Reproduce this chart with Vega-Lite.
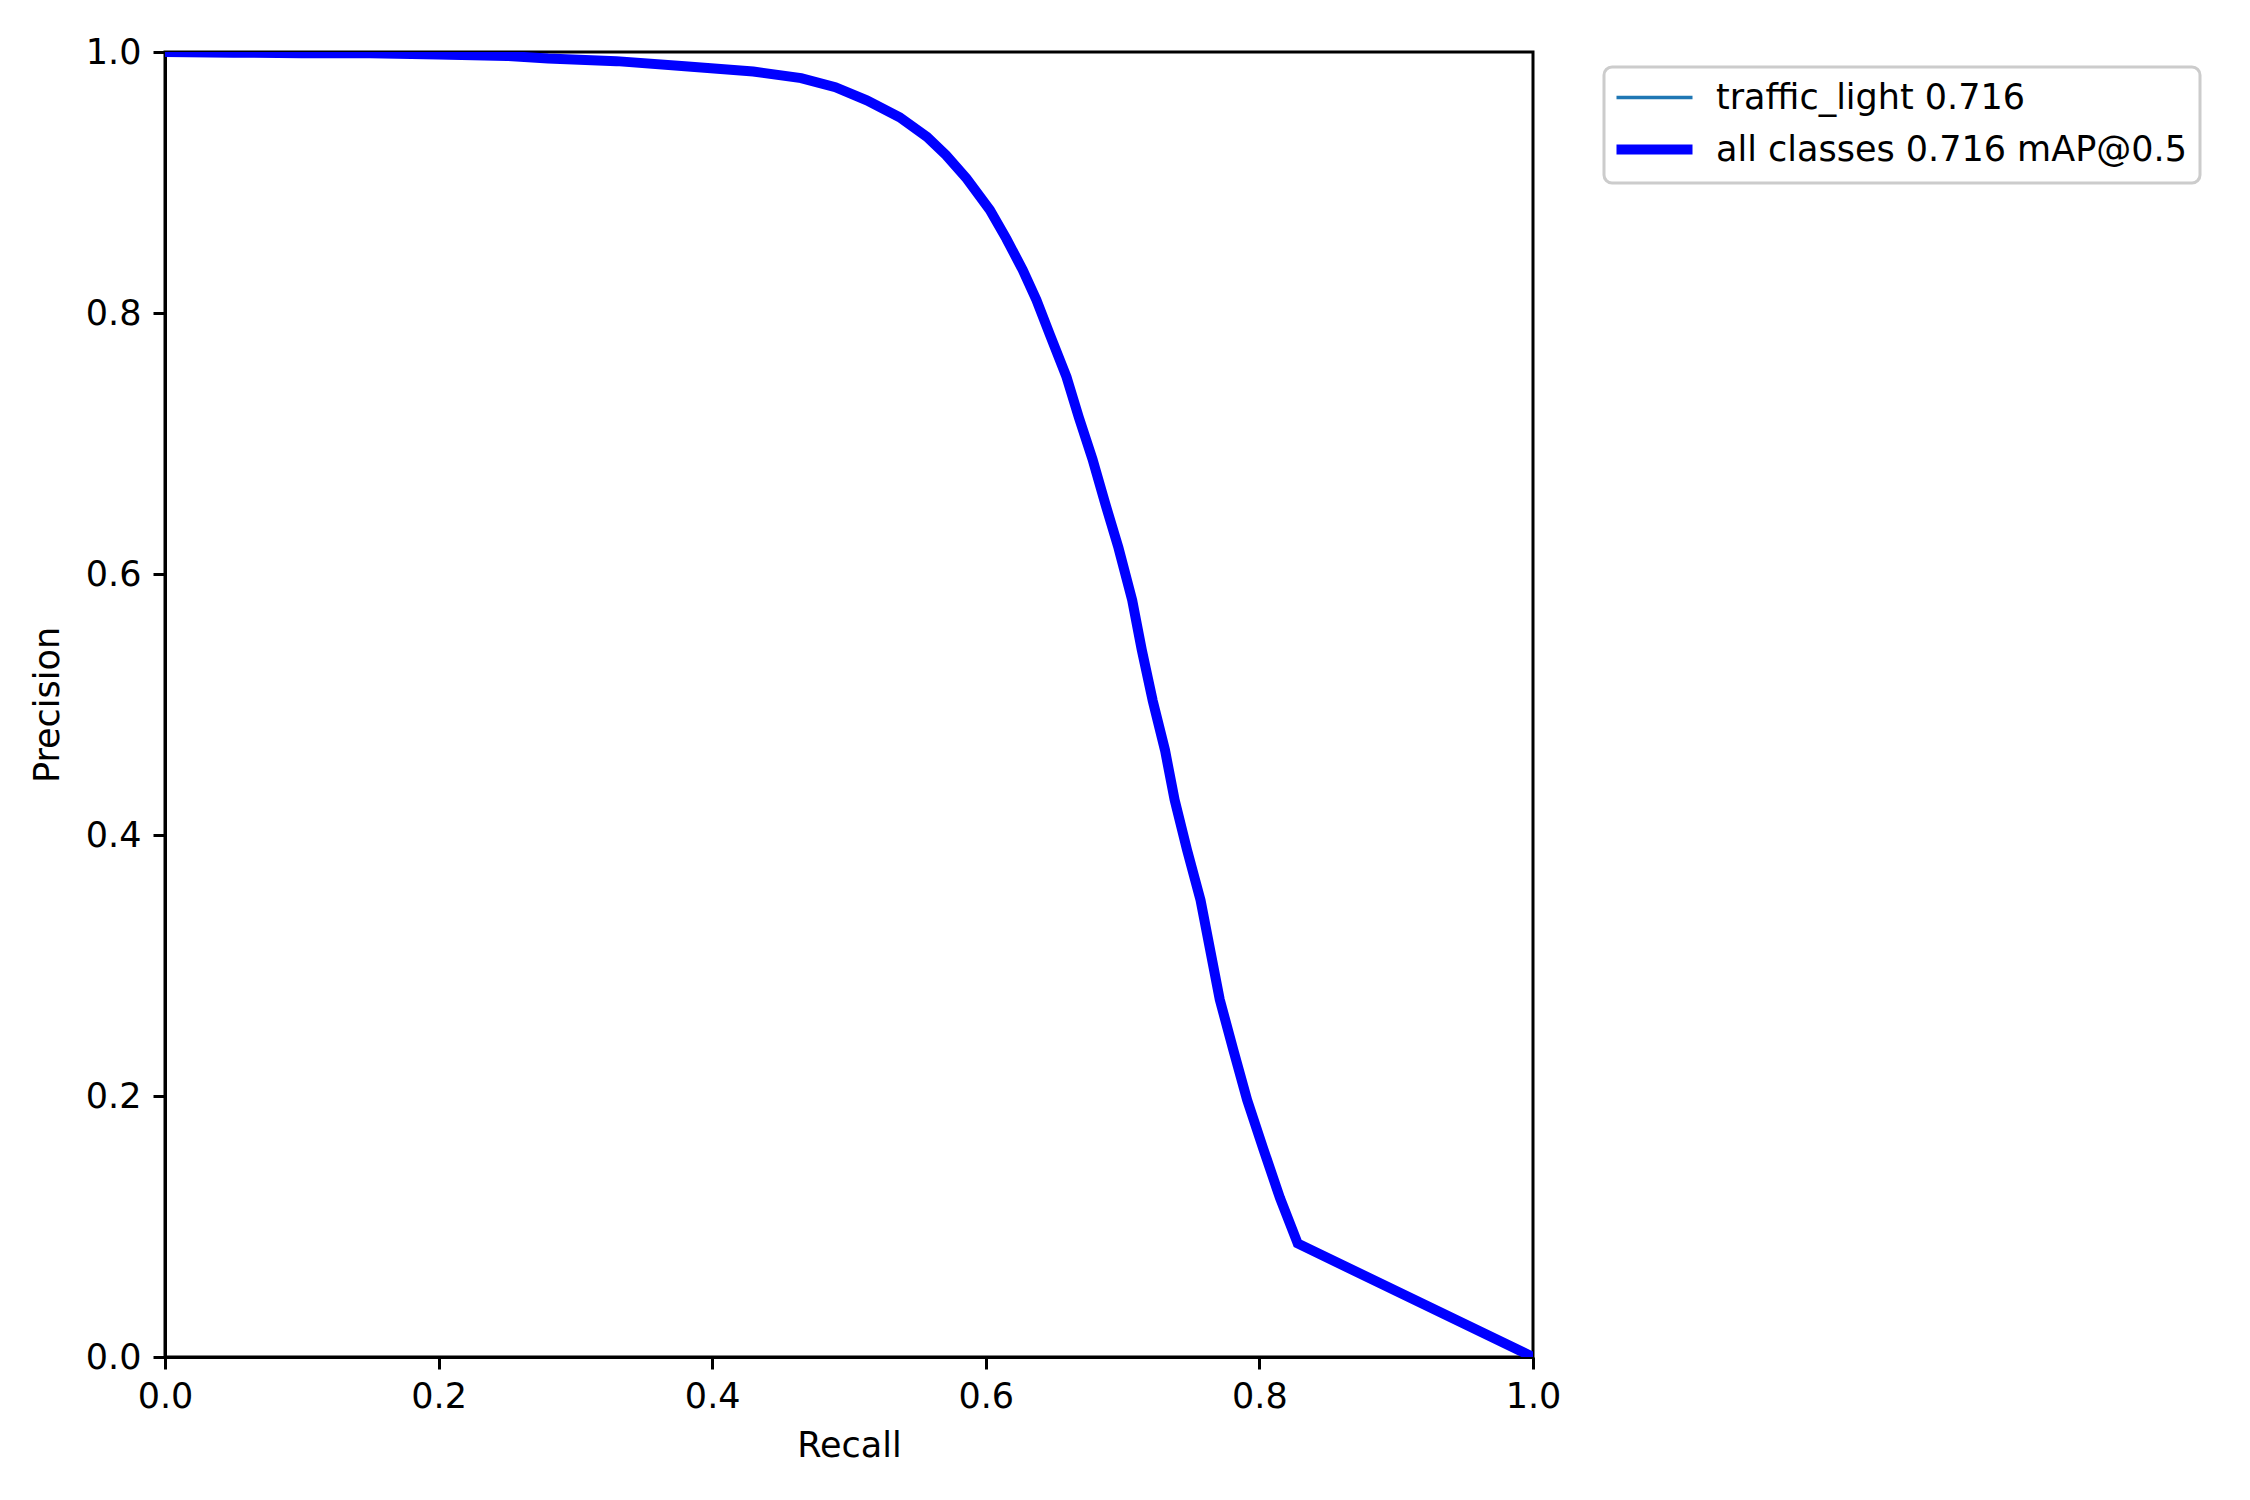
{
  "$schema": "https://vega.github.io/schema/vega-lite/v6.json",
  "width": 1368,
  "height": 1305,
  "autosize": {"type": "none"},
  "padding": {"left": 165, "top": 52, "right": 717, "bottom": 143},
  "background": "white",
  "config": {
    "font": "DejaVu Sans",
    "view": {"stroke": "black", "strokeWidth": 3},
    "axis": {
      "grid": false,
      "domainColor": "black",
      "domainWidth": 3,
      "tickColor": "black",
      "tickWidth": 3,
      "tickSize": 12,
      "labelFont": "DejaVu Sans",
      "labelFontSize": 35,
      "labelColor": "black",
      "titleFont": "DejaVu Sans",
      "titleFontSize": 35,
      "titleFontWeight": "normal",
      "titleColor": "black"
    }
  },
  "data": {
    "values": [
      {"recall": 0.0, "precision": 1.0},
      {"recall": 0.05, "precision": 0.9995},
      {"recall": 0.1, "precision": 0.999},
      {"recall": 0.15, "precision": 0.999},
      {"recall": 0.2, "precision": 0.998},
      {"recall": 0.25, "precision": 0.997},
      {"recall": 0.28, "precision": 0.995},
      {"recall": 0.33, "precision": 0.993},
      {"recall": 0.38, "precision": 0.989},
      {"recall": 0.43, "precision": 0.985},
      {"recall": 0.465, "precision": 0.98},
      {"recall": 0.49, "precision": 0.973},
      {"recall": 0.513, "precision": 0.963},
      {"recall": 0.537, "precision": 0.95},
      {"recall": 0.557, "precision": 0.935},
      {"recall": 0.571, "precision": 0.921},
      {"recall": 0.586, "precision": 0.903},
      {"recall": 0.603, "precision": 0.879},
      {"recall": 0.615, "precision": 0.857},
      {"recall": 0.627, "precision": 0.833},
      {"recall": 0.637, "precision": 0.81},
      {"recall": 0.647, "precision": 0.783},
      {"recall": 0.659, "precision": 0.751},
      {"recall": 0.668, "precision": 0.72},
      {"recall": 0.678, "precision": 0.688},
      {"recall": 0.687, "precision": 0.655},
      {"recall": 0.697, "precision": 0.62},
      {"recall": 0.707, "precision": 0.58},
      {"recall": 0.714, "precision": 0.542},
      {"recall": 0.722, "precision": 0.503},
      {"recall": 0.731, "precision": 0.465},
      {"recall": 0.738, "precision": 0.427},
      {"recall": 0.747, "precision": 0.389},
      {"recall": 0.757, "precision": 0.35},
      {"recall": 0.764, "precision": 0.312},
      {"recall": 0.771, "precision": 0.274},
      {"recall": 0.781, "precision": 0.235},
      {"recall": 0.791, "precision": 0.197},
      {"recall": 0.803, "precision": 0.159},
      {"recall": 0.815, "precision": 0.122},
      {"recall": 0.828, "precision": 0.087},
      {"recall": 1.0, "precision": 0.0}
    ]
  },
  "encoding": {
    "x": {
      "field": "recall", "type": "quantitative",
      "scale": {"domain": [0, 1], "nice": false, "zero": false},
      "axis": {"title": "Recall", "values": [0, 0.2, 0.4, 0.6, 0.8, 1.0], "format": ".1f", "labelPadding": 10, "titlePadding": 14, "labelFlush": false}
    },
    "y": {
      "field": "precision", "type": "quantitative",
      "scale": {"domain": [0, 1], "nice": false, "zero": false},
      "axis": {"title": "Precision", "values": [0, 0.2, 0.4, 0.6, 0.8, 1.0], "format": ".1f", "labelPadding": 12, "titlePadding": 20, "labelFlush": false}
    }
  },
  "layer": [
    {
      "mark": {"type": "line", "strokeWidth": 3.5, "clip": true},
      "encoding": {
        "color": {
          "datum": "traffic_light 0.716",
          "type": "nominal",
          "scale": {"domain": ["traffic_light 0.716", "all classes 0.716 mAP@0.5"], "range": ["#1f77b4", "#0000ff"]},
          "legend": {
            "title": null,
            "orient": "none",
            "legendX": 1439,
            "legendY": 15,
            "symbolType": "stroke",
            "symbolSize": 5776,
            "symbolStrokeWidth": 3.5,
            "symbolOffset": 20,
            "labelFont": "DejaVu Sans",
            "labelFontSize": 35,
            "labelColor": "black",
            "labelOffset": 44,
            "labelLimit": 0,
            "rowPadding": 13,
            "padding": 13,
            "strokeColor": "#cccccc",
            "cornerRadius": 8,
            "fillColor": "white",
            "encode": {
              "legend": {"update": {"strokeWidth": {"value": 3}}},
              "symbols": {"update": {"strokeWidth": {"signal": "datum.value === 'traffic_light 0.716' ? 3.5 : 10"}}}
            }
          }
        }
      }
    },
    {
      "mark": {"type": "line", "strokeWidth": 10, "clip": true},
      "encoding": {
        "color": {"datum": "all classes 0.716 mAP@0.5", "type": "nominal"}
      }
    }
  ]
}
